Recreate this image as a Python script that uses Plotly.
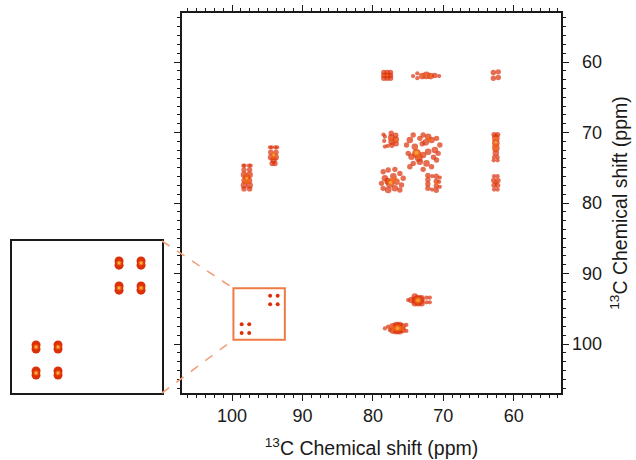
import plotly.graph_objects as go

# ---------------- axis data ----------------
x_ticks = [100, 90, 80, 70, 60]
y_ticks = [60, 70, 80, 90, 100]
y_tick_text = ["60", "70", "80", "90", "100"]
x_range = [107.1, 53.3]
y_range = [106.95, 53.05]
zoom_x = [99.8, 92.5]      # zoomed region (ppm)
zoom_y = [92.1, 99.4]
axis_title = "<sup>13</sup>C Chemical shift (ppm)"

# ---------------- cross-peak dots (x ppm, y ppm, intensity) ----------------
# row near 62 ppm
peaks_a_red = [(78.45, 61.5, 4), (78.45, 61.9, 4), (78.45, 62.3, 4),
               (77.97, 61.5, 4), (77.97, 61.9, 4), (77.97, 62.3, 4),
               (77.5, 61.5, 4), (77.5, 61.9, 4), (77.5, 62.3, 4),
               (74.3, 62.0, 3), (73.7, 61.6, 3), (73.7, 62.3, 3), (73.0, 62.0, 5),
               (72.4, 61.9, 6), (71.8, 62.0, 5), (71.2, 61.9, 4), (70.6, 62.0, 3),
               (62.9, 61.5, 4), (62.2, 61.4, 4), (62.9, 62.3, 4), (62.2, 62.2, 4)]
peaks_a_orange = [(78.45, 61.9, 2), (77.97, 61.9, 2), (72.7, 61.9, 3), (71.9, 62.0, 3)]

# anomeric peaks (~98 / ~94 ppm)
peaks_b_red = [(98.4, 74.7, 3), (98.2, 74.7, 3), (97.6, 74.7, 3), (97.35, 74.7, 3),
               (98.3, 75.3, 4), (97.5, 75.3, 4), (98.3, 76.0, 5), (97.5, 76.0, 5),
               (97.9, 76.3, 5), (98.2, 76.8, 5), (97.6, 76.8, 5), (98.3, 77.5, 5),
               (97.5, 77.5, 5), (98.3, 78.0, 4), (97.5, 78.0, 4),
               (94.6, 72.1, 3), (94.35, 72.1, 3), (93.85, 72.1, 3), (93.6, 72.1, 3),
               (94.5, 72.8, 4), (93.75, 72.8, 4), (94.45, 73.5, 5), (93.8, 73.5, 5),
               (94.1, 73.9, 5), (94.3, 74.4, 4), (93.9, 74.4, 4)]
peaks_b_orange = [(97.9, 76.2, 4), (98.1, 76.9, 4), (97.7, 76.9, 4), (97.9, 76.6, 3),
                  (94.1, 73.4, 4), (94.1, 73.0, 3)]
peaks_b_yellow = [(97.9, 76.5, 2), (94.1, 73.2, 2)]

# central 70-78 ppm region
peaks_c_red = [(78.5, 70.3, 3), (78.3, 70.6, 3), (78.4, 71.2, 3), (77.4, 70.1, 4),
               (77.4, 70.7, 5), (77.35, 71.3, 5), (77.3, 71.8, 4), (76.75, 70.4, 4),
               (76.75, 71.0, 5), (76.7, 71.6, 4), (78.3, 72.0, 3), (77.9, 71.9, 3),
               (75.23, 71.78, 4), (74.76, 71.07, 5), (74.28, 70.36, 4), (74.05, 72.01, 5),
               (73.34, 70.83, 4), (72.87, 70.36, 4), (72.16, 70.59, 5), (71.68, 71.07, 5),
               (70.97, 70.83, 4), (70.5, 71.78, 4), (71.21, 72.49, 5), (72.16, 72.72, 5),
               (72.87, 73.2, 5), (73.81, 72.96, 7), (74.52, 73.43, 5), (74.99, 72.96, 4),
               (73.34, 74.14, 5), (74.28, 74.38, 4), (72.39, 74.38, 5), (71.68, 74.85, 4),
               (70.97, 73.9, 4), (72.87, 75.23, 4), (74.76, 74.85, 4), (70.74, 72.96, 4),
               (73.5, 73.6, 6), (72.5, 71.4, 5), (71.4, 73.5, 4), (73.0, 71.6, 4),
               (78.54, 75.56, 4), (77.83, 75.32, 4), (76.88, 75.23, 4), (76.17, 75.8, 4),
               (75.7, 76.5, 4), (78.3, 76.5, 5), (77.59, 77.21, 7), (76.65, 76.98, 5),
               (78.54, 77.92, 4), (77.83, 78.16, 5), (76.88, 77.92, 5), (75.94, 77.45, 4),
               (78.78, 77.21, 4), (76.17, 78.16, 4), (77.1, 76.2, 5), (77.9, 76.9, 5),
               (72.2, 76.1, 4), (72.2, 76.7, 4), (72.2, 77.3, 4), (72.2, 77.9, 4),
               (71.6, 76.2, 3), (71.6, 78.1, 3), (71.0, 76.2, 4), (71.0, 76.9, 4),
               (71.0, 77.6, 4), (71.0, 78.2, 4), (70.5, 76.4, 3), (70.5, 77.7, 3),
               (70.6, 77.0, 3)]
peaks_c_orange = [(77.4, 70.9, 3), (76.75, 71.1, 3), (73.8, 72.9, 6), (73.5, 73.4, 4),
                  (72.0, 71.0, 4), (77.5, 77.0, 6), (76.9, 76.6, 4), (71.0, 77.2, 3)]
peaks_c_yellow = [(73.8, 72.9, 3), (77.5, 77.1, 3)]

# C-6 region (~62 ppm)
peaks_d_red = [(62.8, 70.3, 4), (62.3, 70.3, 4), (62.55, 70.8, 6), (62.55, 71.5, 6),
               (62.55, 72.2, 6), (62.55, 72.9, 5), (62.8, 73.5, 3), (62.3, 73.5, 3),
               (62.85, 73.95, 3), (62.3, 73.95, 3),
               (62.8, 76.2, 3), (62.3, 76.2, 3), (62.85, 76.8, 4), (62.25, 76.8, 4),
               (62.8, 77.5, 4), (62.3, 77.5, 4), (62.8, 78.1, 3), (62.3, 78.1, 3),
               (62.55, 77.1, 3)]
peaks_d_orange = [(62.55, 71.0, 4), (62.55, 71.7, 4), (62.55, 72.3, 4), (62.55, 77.0, 2)]
peaks_d_yellow = [(62.55, 71.4, 2)]

# cross peaks of the anomeric carbons (~94 / ~98 ppm rows)
peaks_e_red = [(75.0, 93.76, 3), (74.52, 93.76, 5), (74.05, 93.28, 5), (74.05, 94.23, 5),
               (73.57, 93.52, 5), (73.57, 94.23, 5), (73.1, 93.52, 5), (73.1, 94.23, 5),
               (73.9, 93.8, 7), (73.3, 93.8, 7),
               (72.39, 93.43, 3), (72.39, 94.09, 3), (71.92, 93.43, 3), (71.92, 94.09, 3),
               (78.3, 97.8, 3), (77.85, 97.55, 3), (77.6, 98.0, 3), (77.2, 97.5, 5),
               (77.2, 98.1, 5), (76.7, 97.3, 5), (76.7, 98.2, 5), (76.2, 97.3, 5),
               (76.2, 98.2, 5), (75.8, 97.5, 5), (75.8, 98.0, 5), (76.45, 97.75, 9),
               (75.25, 97.3, 3), (75.25, 98.15, 3)]
peaks_e_orange = [(73.6, 93.8, 6), (76.5, 97.75, 6), (77.1, 97.8, 4), (75.9, 97.75, 4)]
peaks_e_yellow = [(73.6, 93.8, 3), (76.5, 97.75, 3)]

# weak peaks inside the zoomed box (also drawn enlarged in the inset)
zoom_peak_x = [98.63, 97.56, 98.63, 97.56, 94.59, 93.52, 94.59, 93.52]
zoom_peak_y = [97.19, 97.19, 98.44, 98.44, 93.16, 93.16, 94.36, 94.36]

RED = "#dc300a"
ORANGE = "#f26a18"
YELLOW = "#f8b83c"
FONT = "Liberation Sans, Arial, sans-serif"
INK = "#1a1a1a"


def dot_trace(groups, color, scale, xa="x", ya="y"):
    pts = [p for g in groups for p in g]
    return go.Scatter(
        x=[p[0] for p in pts], y=[p[1] for p in pts], mode="markers",
        xaxis=xa, yaxis=ya, hoverinfo="skip",
        marker=dict(size=[0.8 + p[2] * scale for p in pts], color=color, line=dict(width=0)),
    )


fig = go.Figure()
fig.add_trace(dot_trace([peaks_a_red, peaks_b_red, peaks_c_red, peaks_d_red, peaks_e_red], RED, 1.15))
fig.add_trace(dot_trace([peaks_a_orange, peaks_b_orange, peaks_c_orange, peaks_d_orange, peaks_e_orange], ORANGE, 1.05))
fig.add_trace(dot_trace([peaks_b_yellow, peaks_c_yellow, peaks_d_yellow, peaks_e_yellow], YELLOW, 1.0))
fig.add_trace(go.Scatter(x=zoom_peak_x, y=zoom_peak_y, mode="markers", hoverinfo="skip",
                         marker=dict(size=4, color=RED, line=dict(width=0))))

# inset: enlarged elliptical dots (two overlapping markers each)
for dy in (-0.1, 0.1):
    fig.add_trace(go.Scatter(x=zoom_peak_x, y=[v + dy for v in zoom_peak_y], mode="markers",
                             xaxis="x2", yaxis="y2", hoverinfo="skip",
                             marker=dict(size=9, color=RED, line=dict(width=0))))
fig.add_trace(go.Scatter(x=zoom_peak_x, y=zoom_peak_y, mode="markers",
                         xaxis="x2", yaxis="y2", hoverinfo="skip",
                         marker=dict(size=5, color=ORANGE, line=dict(width=0))))
fig.add_trace(go.Scatter(x=zoom_peak_x, y=zoom_peak_y, mode="markers",
                         xaxis="x2", yaxis="y2", hoverinfo="skip",
                         marker=dict(size=2.5, color=YELLOW, line=dict(width=0))))

W, H = 636, 460
ml, mr, mt, mb = 12, 75, 13, 67
pw = W - ml - mr
ph = H - mt - mb
main_x0 = (182 - ml) / pw
inset_x1 = 150 / pw
inset_y1 = 152 / ph

tickfont = dict(family=FONT, size=18, color=INK)
common = dict(
    showline=True, linecolor=INK, linewidth=1.6, mirror="allticks",
    ticks="outside", ticklen=6, tickwidth=1.2, tickcolor=INK,
    showgrid=False, zeroline=False, tickfont=tickfont, automargin=False,
)
minor = dict(dtick=1.25, tick0=100, ticks="outside", ticklen=3, tickcolor=INK, showgrid=False)

fig.update_layout(
    width=W, height=H, margin=dict(l=ml, r=mr, t=mt, b=mb, autoexpand=False),
    plot_bgcolor="white", paper_bgcolor="white", showlegend=False,
    xaxis=dict(domain=[main_x0, 1], range=x_range, tickvals=x_ticks, anchor="y",
               minor=minor,
               title=dict(text=axis_title, font=dict(family=FONT, size=19.5, color=INK),
                          standoff=16),
               **common),
    yaxis=dict(domain=[0, 1], range=y_range, tickvals=y_ticks, side="right", anchor="x",
               minor=minor, showticklabels=False,
               title=dict(text=axis_title, font=dict(family=FONT, size=19.5, color=INK),
                          standoff=46),
               **common),
    xaxis2=dict(domain=[0, inset_x1], range=zoom_x, anchor="y2", showticklabels=False,
                showline=True, mirror=True, linecolor=INK, linewidth=1.6,
                ticks="", showgrid=False, zeroline=False),
    yaxis2=dict(domain=[0, inset_y1], range=[zoom_y[1], zoom_y[0]], anchor="x2",
                showticklabels=False, showline=True, mirror=True, linecolor=INK,
                linewidth=1.6, ticks="", showgrid=False, zeroline=False),
)

# right-axis tick labels, right-aligned as in the original
label_x = (604 - ml) / pw
for v, t in zip(y_ticks, y_tick_text):
    fig.add_annotation(x=label_x, xref="paper", y=v, yref="y", text=t, showarrow=False,
                       xanchor="right", yanchor="middle", font=tickfont)

# zoom box on the main spectrum
fig.add_shape(type="rect", xref="x", yref="y", x0=zoom_x[0], x1=zoom_x[1],
              y0=zoom_y[0], y1=zoom_y[1], line=dict(color="#ee7b45", width=2))


def to_paper_x(v):
    return main_x0 + (x_range[0] - v) / (x_range[0] - x_range[1]) * (1 - main_x0)


def to_paper_y(v):
    return (y_range[0] - v) / (y_range[0] - y_range[1])


bx = to_paper_x(zoom_x[0])
for (iy, vy) in ((inset_y1, zoom_y[0]), (0, zoom_y[1])):
    fig.add_shape(type="line", xref="paper", yref="paper", x0=inset_x1, y0=iy,
                  x1=bx, y1=to_paper_y(vy),
                  line=dict(color="#f2a27c", width=1.6, dash="dash"))

fig.write_html("out.html", config={"displayModeBar": False},
               post_script="document.body.style.margin='0';")
